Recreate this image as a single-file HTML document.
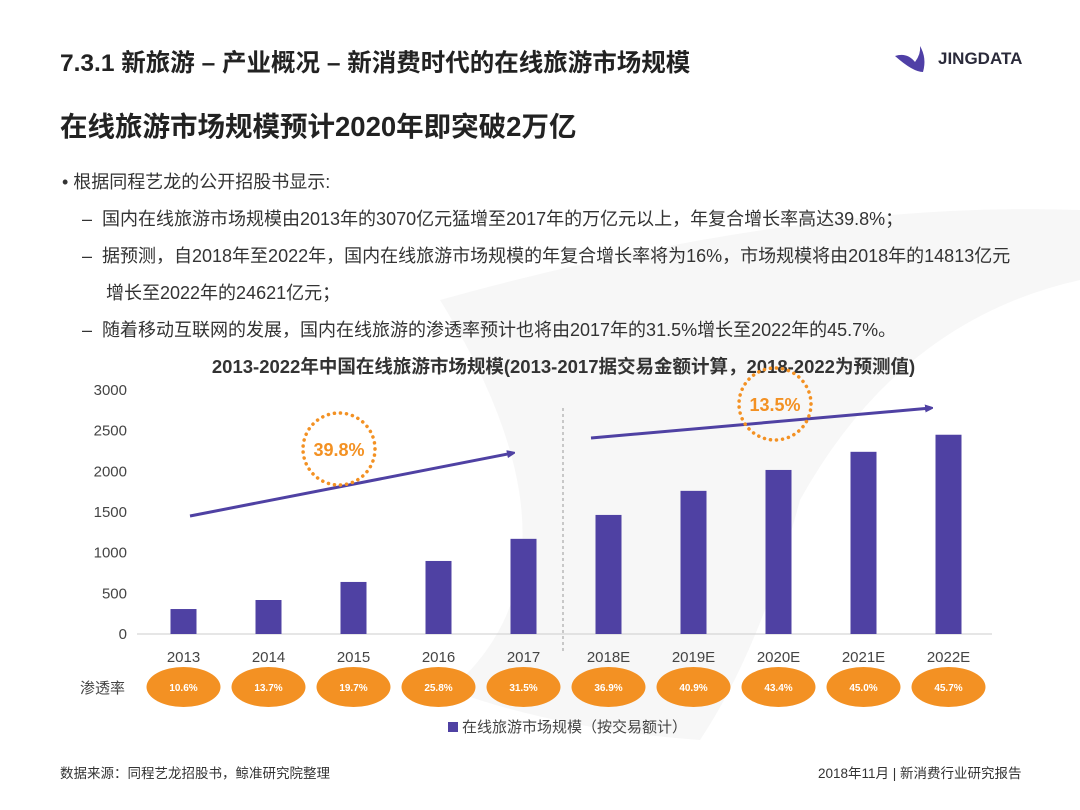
<!DOCTYPE html>
<html><head><meta charset="utf-8"><style>
body{margin:0;width:1080px;height:810px;background:#fff;font-family:"Liberation Sans","Noto Sans CJK SC",sans-serif;position:relative;overflow:hidden;color:#333}
.a{position:absolute;white-space:nowrap}
</style></head><body>
<svg class="a" style="left:0;top:0" width="1080" height="810">
<path d="M440 300 Q800 200 1080 210 L1080 280 Q900 320 800 500 Q760 650 700 740 Q560 730 450 690 Q600 560 440 300Z" fill="#f7f7f7"/>
</svg>
<div class="a" style="left:60px;top:44px;font-size:24.5px;font-weight:bold;color:#222">7.3.1 新旅游 – 产业概况 – 新消费时代的在线旅游市场规模</div>
<div class="a" style="left:893px;top:44px;width:140px;height:30px">
<svg width="40" height="30"><path d="M2 12 Q14 8 22 18 Q28 10 27 2 Q34 14 30 28 Q20 28 2 12Z" fill="#4f3fa6"/></svg>
<span style="position:absolute;left:45px;top:5px;font-size:17px;font-weight:bold;color:#2a2a3a">JINGDATA</span></div>
<div class="a" style="left:60px;top:104px;font-size:27.5px;font-weight:bold;color:#222">在线旅游市场规模预计2020年即突破2万亿</div>
<div class="a" style="left:62px;top:164px;font-size:18px;line-height:37px;color:#333">
• 根据同程艺龙的公开招股书显示:<br>
<span style="padding-left:20px">–&nbsp; 国内在线旅游市场规模由2013年的3070亿元猛增至2017年的万亿元以上，年复合增长率高达39.8%；</span><br>
<span style="padding-left:20px">–&nbsp; 据预测，自2018年至2022年，国内在线旅游市场规模的年复合增长率将为16%，市场规模将由2018年的14813亿元</span><br>
<span style="padding-left:44px">增长至2022年的24621亿元；</span><br>
<span style="padding-left:20px">–&nbsp; 随着移动互联网的发展，国内在线旅游的渗透率预计也将由2017年的31.5%增长至2022年的45.7%。</span></div>
<div class="a" style="left:0;width:1127px;text-align:center;top:353px;font-size:18.5px;font-weight:bold;color:#333">2013-2022年中国在线旅游市场规模(2013-2017据交易金额计算，2018-2022为预测值)</div>
<svg id="chart" class="a" style="left:0;top:0" width="1080" height="810"></svg>
<div class="a" style="left:448px;top:716px;font-size:15px;color:#444"><span style="display:inline-block;width:10px;height:10px;background:#4f41a3;margin-right:4px"></span>在线旅游市场规模（按交易额计）</div>
<div class="a" style="left:60px;top:762px;font-size:13.5px;color:#333">数据来源：同程艺龙招股书，鲸准研究院整理</div>
<div class="a" style="left:818px;top:762px;font-size:13.5px;color:#333">2018年11月 | 新消费行业研究报告</div>
<script>
const categories=["2013","2014","2015","2016","2017","2018E","2019E","2020E","2021E","2022E"];
const marketSize=[307,418,640,898,1170,1464,1760,2017,2240,2450];
const penetration=["10.6%","13.7%","19.7%","25.8%","31.5%","36.9%","40.9%","43.4%","45.0%","45.7%"];
const yTicks=[0,500,1000,1500,2000,2500,3000];
const NS="http://www.w3.org/2000/svg";
const svg=document.getElementById('chart');
const y0=634,yTop=390,x0=141,band=85;
const yS=v=>y0-(v/3000)*(y0-yTop);
const xS=i=>x0+band*i+band/2;
function mk(t,a){const e=document.createElementNS(NS,t);for(const k in a)e.setAttribute(k,a[k]);svg.appendChild(e);return e;}
yTicks.forEach(v=>{const t=mk('text',{x:127,y:yS(v)+5,'text-anchor':'end','font-size':15,fill:'#444'});t.textContent=v;

});
const ax=mk('line',{x1:137,x2:992,y1:y0,y2:y0,stroke:'#ccc'});


const dv=mk('line',{x1:563,x2:563,y1:408,y2:652,stroke:'#999','stroke-dasharray':'3,3'});


categories.forEach((c,i)=>{
 const x=xS(i);
 const r=mk('rect',{x:x-13,y:yS(marketSize[i]),width:26,height:y0-yS(marketSize[i]),fill:'#4f41a3'});
 
 
 const t=mk('text',{x:x,y:662,'text-anchor':'middle','font-size':15,fill:'#444'});t.textContent=c;
 
 
 const e=mk('ellipse',{cx:x,cy:687,rx:37,ry:20,fill:'#f39123'});
 
 
 const p=mk('text',{x:x,y:691,'text-anchor':'middle','font-size':10,'font-weight':'bold',fill:'#fff'});p.textContent=penetration[i];
 
 
});
const pl=mk('text',{x:80,y:693,'font-size':15,fill:'#444'});pl.textContent='渗透率';


mk('defs',{}).innerHTML='<marker id="ar" markerWidth="8" markerHeight="8" refX="6" refY="4" orient="auto" markerUnits="userSpaceOnUse"><path d="M0 0L10 4L0 8Z" fill="#4f41a3"/></marker>';
const a1=mk('line',{x1:190,y1:516,x2:513,y2:453,stroke:'#4f41a3','stroke-width':3,'marker-end':'url(#ar)'});


const a2=mk('line',{x1:591,y1:438,x2:931,y2:408,stroke:'#4f41a3','stroke-width':3,'marker-end':'url(#ar)'});


[[339,449,'39.8%'],[775,404,'13.5%']].forEach(([cx,cy,s])=>{
 const c=mk('circle',{cx:cx,cy:cy,r:36,fill:'none',stroke:'#f39123','stroke-width':3.5,'stroke-dasharray':'0.1,6','stroke-linecap':'round'});
 
 
 const t=mk('text',{x:cx,y:cy+7,'text-anchor':'middle','font-size':18,'font-weight':'bold',fill:'#f39123'});t.textContent=s;
 
 
});
</script>
</body></html>
